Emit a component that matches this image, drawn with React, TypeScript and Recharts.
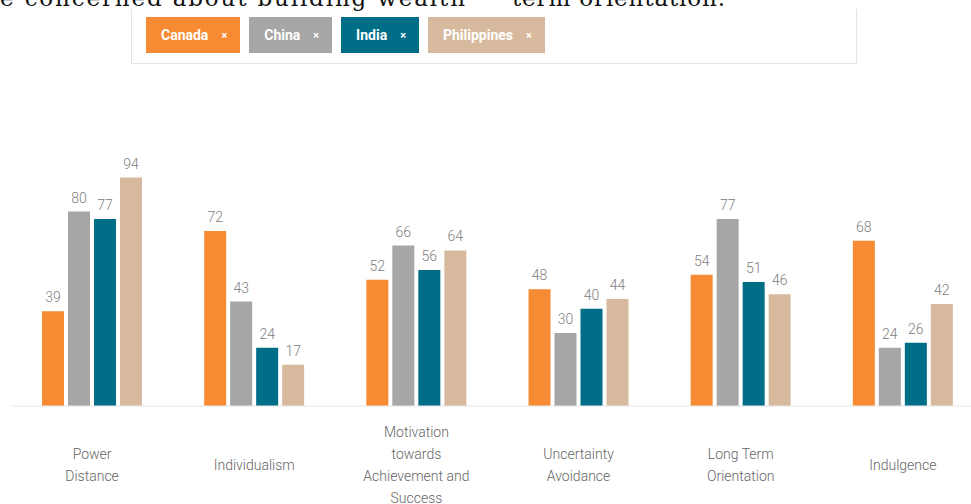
import React from "react";
import { BarChart, Bar, XAxis, YAxis, LabelList } from "recharts";

const categories = [
  "Power Distance",
  "Individualism",
  "Motivation towards Achievement and Success",
  "Uncertainty Avoidance",
  "Long Term Orientation",
  "Indulgence",
];
const tickLines: string[][] = [
  ["Power", "Distance"],
  ["Individualism"],
  ["Motivation", "towards", "Achievement and", "Success"],
  ["Uncertainty", "Avoidance"],
  ["Long Term", "Orientation"],
  ["Indulgence"],
];
const canada = [39, 72, 52, 48, 54, 68];
const china = [80, 43, 66, 30, 77, 24];
const india = [77, 24, 56, 40, 51, 26];
const philippines = [94, 17, 64, 44, 46, 42];

const seriesNames = ["Canada", "China", "India", "Philippines"];
const seriesColors = ["#F68B33", "#A6A6A6", "#006E87", "#D7BA9E"];
const seriesKeys = ["canada", "china", "india", "philippines"];

const data = categories.map((c, i) => ({
  name: c,
  idx: i,
  canada: canada[i],
  china: china[i],
  india: india[i],
  philippines: philippines[i],
}));

const FONT = "Roboto, 'Noto Sans', sans-serif";

const CatTick = (props: any) => {
  const { x, y, payload } = props;
  const idx = categories.indexOf(payload.value);
  const lines = tickLines[idx] || [payload.value];
  const lh = 21.7;
  const center = y + 59;
  const first = center - ((lines.length - 1) * lh) / 2;
  return (
    <text
      x={x}
      y={first}
      textAnchor="middle"
      fill="#666"
      fontSize={14}
      fontWeight={300}
      fontFamily={FONT}
      dominantBaseline="central"
    >
      {lines.map((l, i) => (
        <tspan key={i} x={x} y={first + i * lh} dominantBaseline="central">
          {l}
        </tspan>
      ))}
    </text>
  );
};

export default function App() {
  return (
    <div
      style={{
        position: "absolute",
        left: 0,
        top: 0,
        width: 971,
        height: 504,
        overflow: "hidden",
        background: "#fff",
      }}
    >
      <svg
        width={971}
        height={20}
        style={{ position: "absolute", left: 0, top: 0 }}
      >
        <text
          x={0}
          y={6}
          fontFamily="'DejaVu Serif', serif"
          fontSize={23}
          fill="#111"
          textLength={465}
          lengthAdjust="spacing"
        >
          e concerned about building wealth
        </text>
        <text
          x={512}
          y={6}
          fontFamily="'DejaVu Serif', serif"
          fontSize={23}
          fill="#111"
          textLength={213}
          lengthAdjust="spacing"
        >
          term orientation.
        </text>
      </svg>
      <div
        style={{
          position: "absolute",
          left: 131,
          top: 9,
          width: 724,
          height: 54,
          borderLeft: "1px solid #e4e4e4",
          borderRight: "1px solid #e4e4e4",
          borderBottom: "1px solid #e4e4e4",
        }}
      />
      <div
        style={{
          position: "absolute",
          left: 146,
          top: 17,
          display: "flex",
          gap: 9,
          fontFamily: FONT,
        }}
      >
        {seriesNames.map((n, i) => (
          <div
            key={n}
            style={{
              background: seriesColors[i],
              color: "#fff",
              height: 36,
              padding: "0 13px 0 15px",
              display: "flex",
              alignItems: "center",
              fontWeight: 700,
              fontSize: 14,
              boxSizing: "border-box",
            }}
          >
            <span>{n}</span>
            <span style={{ marginLeft: 13, fontSize: 11 }}>×</span>
          </div>
        ))}
      </div>
      <div style={{ position: "absolute", left: 0, top: 0 }}>
        <BarChart
          width={984}
          height={504}
          data={data}
          margin={{ top: 163, right: 0, bottom: 0, left: 11 }}
          barSize={22}
          barGap={4}
        >
          <XAxis
            dataKey="name"
            height={98}
            interval={0}
            tickLine={false}
            tickSize={0}
            tickMargin={0}
            axisLine={{ stroke: "#e6e6e6" }}
            tick={<CatTick />}
          />
          <YAxis
            width={0}
            domain={[0, 100]}
            tick={false}
            tickLine={false}
            axisLine={{ stroke: "#e6e6e6" }}
          />
          {seriesKeys.map((k, i) => (
            <Bar
              key={k}
              dataKey={k}
              name={seriesNames[i]}
              fill={seriesColors[i]}
              isAnimationActive={false}
            >
              <LabelList
                dataKey={k}
                position="top"
                offset={9}
                fill="#808080"
                fontSize={14}
                fontWeight={300}
                fontFamily={FONT}
              />
            </Bar>
          ))}
        </BarChart>
      </div>
    </div>
  );
}
